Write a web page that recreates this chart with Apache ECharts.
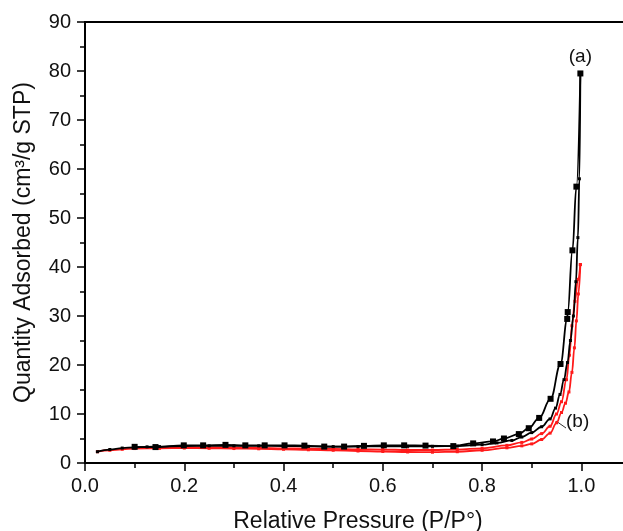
<!DOCTYPE html>
<html>
<head>
<meta charset="utf-8">
<script src="https://cdn.jsdelivr.net/npm/echarts@6/dist/echarts.min.js"></script>
<style>html,body{margin:0;padding:0;background:#fff;}#c{width:623px;height:531px;}</style>
</head>
<body>
<div id="c"></div>
<script>
// Sample (a) desorption branch (square symbols)
var aDesP = [0.100,0.142,0.199,0.238,0.283,0.323,0.362,0.402,0.442,0.482,0.522,0.562,0.602,0.643,0.686,0.742,0.782,0.822,0.844,0.874,0.894,0.915,0.938,0.958,0.9715,0.9725,0.982,0.990,0.998];
var aDesQ = [3.3,3.25,3.6,3.6,3.7,3.6,3.6,3.6,3.55,3.35,3.35,3.5,3.6,3.6,3.55,3.45,4.0,4.4,5.0,5.9,7.1,9.2,13.1,20.2,29.4,30.8,43.4,56.4,79.5];
// Sample (a) adsorption branch (small dots)
var aAdsP = [0.025,0.05,0.075,0.1,0.125,0.15,0.2,0.25,0.3,0.35,0.4,0.45,0.5,0.55,0.6,0.65,0.7,0.75,0.8,0.83,0.86,0.88,0.9,0.92,0.937,0.948,0.957,0.965,0.972,0.978,0.984,0.989,0.993,0.996,0.998];
var aAdsQ = [2.3,2.75,3.05,3.2,3.3,3.35,3.45,3.5,3.5,3.5,3.45,3.4,3.35,3.35,3.4,3.4,3.4,3.45,3.75,4.1,4.6,5.3,6.2,7.4,9.0,11.2,14.0,17.0,20.5,25.0,30.0,37.0,46.0,58.0,79.5];
// Sample (b) desorption branch
var bDesP = [0.1,0.15,0.2,0.25,0.3,0.35,0.4,0.45,0.5,0.55,0.6,0.65,0.7,0.75,0.8,0.85,0.88,0.9,0.92,0.937,0.95,0.96,0.97,0.976,0.981,0.987,0.993,0.998];
var bDesQ = [3.1,3.15,3.2,3.2,3.15,3.1,3.0,2.95,2.9,2.8,2.75,2.65,2.65,2.75,3.0,3.6,4.2,4.9,6.0,7.5,10.0,12.5,17.0,22.0,28.0,33.0,37.5,40.5];
// Sample (b) adsorption branch
var bAdsP = [0.025,0.05,0.075,0.1,0.15,0.2,0.25,0.3,0.35,0.4,0.45,0.5,0.55,0.6,0.65,0.7,0.75,0.8,0.85,0.88,0.9,0.92,0.937,0.95,0.96,0.968,0.975,0.981,0.986,0.99,0.994,0.998];
var bAdsQ = [2.3,2.6,2.8,2.95,3.0,3.05,3.0,2.95,2.9,2.8,2.7,2.6,2.45,2.35,2.25,2.2,2.3,2.6,3.1,3.5,3.9,4.8,6.1,8.2,10.3,12.2,14.5,18.5,23.5,29.0,34.5,40.5];

var xTicks = [0.0,0.2,0.4,0.6,0.8,1.0];
var yTicks = [0,10,20,30,40,50,60,70,80,90];
var labelA = '(a)';
var labelB = '(b)';

function pairs(xs, ys) { return xs.map(function (x, i) { return [x, ys[i]]; }); }

var txt = '#111';
var aDesData = pairs(aDesP, aDesQ);
aDesData[aDesData.length - 1] = {
  value: aDesData[aDesData.length - 1],
  label: { show: true, position: 'top', distance: 4, formatter: labelA,
           fontFamily: 'Liberation Sans', fontSize: 19, color: txt }
};

var chart = echarts.init(document.getElementById('c'), null, { renderer: 'canvas' });
chart.setOption({
  backgroundColor: '#fff',
  animation: false,
  grid: { left: 85, top: 22, right: -8, bottom: 68, show: true, borderColor: '#000', borderWidth: 2,
          backgroundColor: 'transparent', containLabel: false, outerBoundsMode: 'none' },
  xAxis: {
    type: 'value', min: 0, max: 1.1, interval: 0.2,
    name: 'Relative Pressure (P/P°)', nameLocation: 'middle', nameGap: 47,
    nameTextStyle: { fontFamily: 'Liberation Sans', fontSize: 23, color: txt },
    axisLine: { onZero: false, lineStyle: { color: '#000', width: 2 } },
    axisTick: { inside: false, length: 8, lineStyle: { color: '#000', width: 1.5 } },
    minorTick: { show: true, splitNumber: 2, length: 5, lineStyle: { color: '#000', width: 1.5 } },
    axisLabel: { margin: 13, fontFamily: 'Liberation Sans', fontSize: 20, color: txt, showMaxLabel: false,
      formatter: function (v) { return xTicks.indexOf(Math.round(v * 10) / 10) >= 0 ? v.toFixed(1) : ''; } },
    splitLine: { show: false }
  },
  yAxis: {
    type: 'value', min: 0, max: 90, interval: 10,
    name: 'Quantity Adsorbed (cm³/g STP)', nameLocation: 'middle', nameGap: 50,
    nameTextStyle: { fontFamily: 'Liberation Sans', fontSize: 23, color: txt },
    axisLine: { onZero: false, lineStyle: { color: '#000', width: 2 } },
    axisTick: { inside: false, length: 8, lineStyle: { color: '#000', width: 1.5 } },
    minorTick: { show: true, splitNumber: 2, length: 5, lineStyle: { color: '#000', width: 1.5 } },
    axisLabel: { margin: 14, fontFamily: 'Liberation Sans', fontSize: 20, color: txt,
      formatter: function (v) { return yTicks.indexOf(v) >= 0 ? String(v) : ''; } },
    splitLine: { show: false }
  },
  series: [
    { type: 'line', data: pairs(bAdsP, bAdsQ), smooth: 0.4, smoothMonotone: 'x',
      symbol: 'rect', symbolSize: 3, lineStyle: { color: '#ff1a1a', width: 1.8 }, itemStyle: { color: '#ff1a1a' }, z: 2 },
    { type: 'line', data: pairs(bDesP, bDesQ), smooth: 0.4, smoothMonotone: 'x',
      symbol: 'rect', symbolSize: 3, lineStyle: { color: '#ff1a1a', width: 1.8 }, itemStyle: { color: '#ff1a1a' }, z: 2 },
    { type: 'line', data: pairs(aAdsP, aAdsQ), smooth: 0.4, smoothMonotone: 'x',
      symbol: 'rect', symbolSize: 3, lineStyle: { color: '#000', width: 1.8 }, itemStyle: { color: '#000' }, z: 3 },
    { type: 'line', data: aDesData, smooth: 0.4, smoothMonotone: 'x',
      symbol: 'rect', symbolSize: 6, lineStyle: { color: '#000', width: 1.8 }, itemStyle: { color: '#000' }, z: 4 }
  ],
  graphic: [
    { type: 'line', shape: { x1: 556, y1: 421, x2: 566, y2: 428 }, style: { stroke: '#333', lineWidth: 1 } },
    { type: 'text', left: 566, top: 412, style: { text: labelB, fontFamily: 'Liberation Sans', fontSize: 19, fill: txt } }
  ]
});
</script>
</body>
</html>
